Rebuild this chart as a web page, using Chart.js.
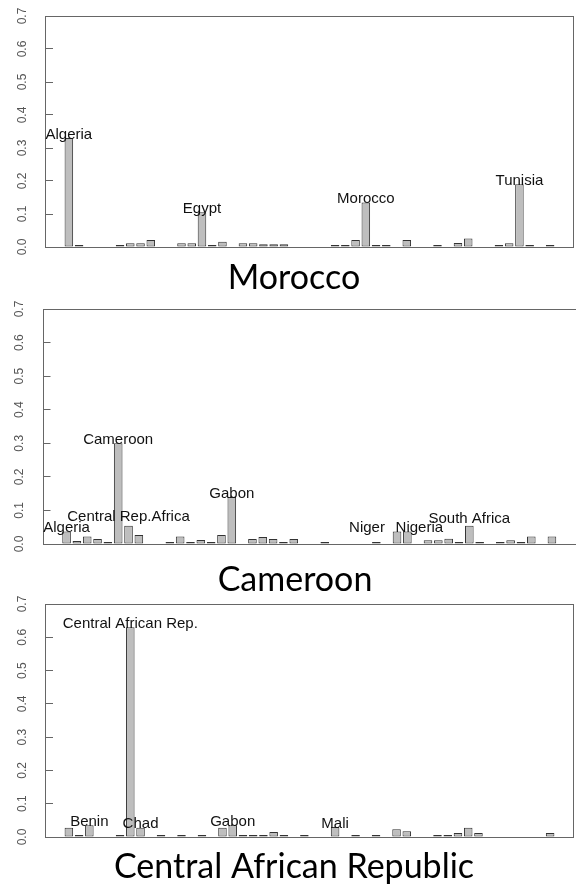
<!DOCTYPE html>
<html>
<head>
<meta charset="utf-8">
<title>Trade partner shares</title>
<script src="https://cdn.jsdelivr.net/npm/chart.js@4.4.1/dist/chart.umd.min.js"></script>
<style>
  html, body { margin: 0; padding: 0; background: #ffffff; }
  body { width: 576px; height: 885px; position: relative; overflow: hidden; }
  canvas { position: absolute; left: 0; }
</style>
</head>
<body>
<canvas id="panelMorocco"></canvas>
<canvas id="panelCameroon"></canvas>
<canvas id="panelCAR"></canvas>
<script>
// Partner countries, in the order the bars are drawn
const countries = [
  'Algeria', 'Angola', 'Benin', 'Botswana', 'Burkina Faso', 'Cameroon',
  'Central African Rep.', 'Chad', 'Comoros', 'Congo', "Cote d'Ivoire",
  'Dem. Rep. Congo', 'Djibouti', 'Egypt', 'Equatorial Guinea', 'Ethiopia',
  'Gabon', 'Gambia', 'Ghana', 'Guinea', 'Guinea-Bissau', 'Kenya', 'Liberia',
  'Libya', 'Madagascar', 'Malawi', 'Mali', 'Mauritania', 'Mauritius',
  'Morocco', 'Mozambique', 'Namibia', 'Niger', 'Nigeria', 'Rwanda',
  'Sao Tome', 'Senegal', 'Sierra Leone', 'Somalia', 'South Africa', 'Sudan',
  'Swaziland', 'Tanzania', 'Togo', 'Tunisia', 'Uganda', 'Zambia', 'Zimbabwe'
];

// Share of each partner, one series per reporting country
const moroccoShares = [
  0.330, 0.006, 0, 0, 0, 0.006, 0.011, 0.011, 0.021, 0, 0, 0.011,
  0.011, 0.105, 0.006, 0.016, 0, 0.011, 0.011, 0.008, 0.008, 0.008, 0, 0,
  0, 0, 0.006, 0.006, 0.021, 0.135, 0.006, 0.006, 0, 0.021, 0, 0,
  0.006, 0, 0.012, 0.026, 0, 0, 0.006, 0.011, 0.190, 0.006, 0, 0.006
];
const cameroonShares = [
  0.037, 0.009, 0.022, 0.015, 0.006, 0.300, 0.054, 0.027, 0, 0, 0.006, 0.022,
  0.006, 0.012, 0.006, 0.027, 0.140, 0, 0.015, 0.021, 0.015, 0.006, 0.015, 0,
  0, 0.006, 0, 0, 0, 0, 0.006, 0, 0.037, 0.037, 0, 0.011,
  0.011, 0.016, 0.006, 0.054, 0.006, 0, 0.006, 0.011, 0.006, 0.022, 0, 0.022
];
const carShares = [
  0.028, 0.006, 0.035, 0, 0, 0.006, 0.630, 0.028, 0, 0.006, 0, 0.006,
  0, 0.006, 0, 0.028, 0.035, 0.006, 0.006, 0.006, 0.015, 0.006, 0, 0.006,
  0, 0, 0.030, 0, 0.006, 0, 0.006, 0, 0.023, 0.017, 0, 0,
  0.006, 0.006, 0.012, 0.028, 0.012, 0, 0, 0, 0, 0, 0, 0.012
];

// Value axis ticks
const yTickValues = [0, 0.1, 0.2, 0.3, 0.4, 0.5, 0.6, 0.7];

// Named bars in each panel: partner index and the text written over it
const moroccoNamed = [
  { index: 0, text: 'Algeria' }, { index: 13, text: 'Egypt' },
  { index: 29, text: 'Morocco' }, { index: 44, text: 'Tunisia' }
];
const cameroonNamed = [
  { index: 0, text: 'Algeria' }, { index: 5, text: 'Cameroon' },
  { index: 6, text: 'Central Rep.Africa' }, { index: 16, text: 'Gabon' },
  { index: 32, text: 'Niger' }, { index: 33, text: 'Nigeria' },
  { index: 39, text: 'South Africa' }
];
const carNamed = [
  { index: 2, text: 'Benin' }, { index: 6, text: 'Central African Rep.' },
  { index: 7, text: 'Chad' }, { index: 16, text: 'Gabon' }, { index: 26, text: 'Mali' }
];

// Nudges for names that would otherwise collide (dx in px, dy in share units)
const nameNudges = {
  'Central Rep.Africa': { dx: 0, dy: 0.027 },
  'Niger': { dx: -30, dy: 0.01 },
  'Nigeria': { dx: 12, dy: 0.01 },
  'South Africa': { dx: 0, dy: 0.02 }
};

// barplot-style layout: unit-wide bars separated by 0.2
const BAR_W = 1, BAR_GAP = 0.2;
const barCentre = i => BAR_GAP + BAR_W / 2 + i * (BAR_W + BAR_GAP);
const spanLo = BAR_GAP, spanHi = countries.length * (BAR_W + BAR_GAP);
const pad = (spanHi - spanLo) * 0.04;

const boxPlugin = {
  id: 'frameBox',
  afterDatasetsDraw(chart) {
    const { ctx, chartArea: a } = chart;
    ctx.save();
    ctx.strokeStyle = '#666666';
    ctx.lineWidth = 1;
    ctx.strokeRect(Math.round(a.left) + 0.5, Math.round(a.top) + 0.5,
                   Math.round(a.right - a.left) - 1, Math.round(a.bottom - a.top));
    ctx.restore();
  }
};

const namesPlugin = {
  id: 'barNames',
  afterDraw(chart, args, opts) {
    const { ctx } = chart;
    const xs = chart.scales.x, ys = chart.scales.y;
    const vals = chart.data.datasets[0].data;
    ctx.save();
    ctx.font = '15px "Liberation Sans", Arial, sans-serif';
    ctx.fillStyle = '#111111';
    ctx.textAlign = 'center';
    ctx.textBaseline = 'middle';
    (opts.names || []).forEach(n => {
      const nudge = nameNudges[n.text] || { dx: 0, dy: 0.01 };
      const x = xs.getPixelForValue(vals[n.index].x) + nudge.dx;
      const y = ys.getPixelForValue(vals[n.index].y + nudge.dy);
      ctx.fillText(n.text, x, y);
    });
    ctx.restore();
  }
};

// left inset of the title block, which puts the titles a little right of centre
const TITLE_INSET = 14;

function makePanel(id, values, names, title, g) {
  const canvas = document.getElementById(id);
  canvas.width = 576; canvas.height = g.height;
  canvas.style.top = g.top + 'px';
  canvas.style.width = '576px'; canvas.style.height = g.height + 'px';
  const titleLine = 34;
  return new Chart(canvas, {
    type: 'bar',
    data: {
      datasets: [{
        data: values.map((v, i) => ({ x: barCentre(i), y: v, name: countries[i] })),
        backgroundColor: '#bebebe',
        borderColor: '#333333',
        borderWidth: 1,
        borderSkipped: false,
        categoryPercentage: 1,
        barPercentage: BAR_W / (BAR_W + BAR_GAP)
      }]
    },
    options: {
      responsive: false,
      animation: false,
      devicePixelRatio: 1,
      layout: {
        padding: {
          left: TITLE_INSET,
          top: g.box.t - g.top,
          right: 576 - g.box.r,
          bottom: g.top + g.height - (g.titleMid + titleLine / 2)
        }
      },
      plugins: {
        legend: { display: false },
        tooltip: { enabled: false },
        title: {
          display: true,
          text: title,
          position: 'bottom',
          color: '#000000',
          font: { family: 'Lato', size: 34, weight: 'normal', lineHeight: 1 },
          padding: { top: g.titleMid - titleLine / 2 - g.box.b, bottom: 0 }
        },
        barNames: { names: names }
      },
      scales: {
        x: {
          type: 'linear',
          display: false,
          offset: false,
          bounds: 'data',
          min: spanLo - pad,
          max: spanHi + pad,
          afterBuildTicks: s => { s.ticks = values.map((v, i) => ({ value: barCentre(i) })); }
        },
        y: {
          type: 'linear',
          min: 0,
          max: 0.7,
          afterBuildTicks: s => { s.ticks = yTickValues.map(v => ({ value: v })); },
          afterFit: s => {
            s.width = g.box.l - TITLE_INSET;
            s.paddingTop = 0; s.paddingBottom = 0;
            s.paddingLeft = 0; s.paddingRight = 0;
          },
          border: { display: false },
          grid: {
            drawOnChartArea: false,
            drawTicks: true,
            tickLength: -8,
            color: '#666666',
            lineWidth: 1
          },
          ticks: {
            minRotation: 90,
            maxRotation: 90,
            crossAlign: 'center',
            padding: 22,
            color: '#555555',
            font: { family: '"Liberation Sans", Arial, sans-serif', size: 12 },
            callback: v => Number(v).toFixed(1)
          }
        }
      }
    },
    plugins: [boxPlugin, namesPlugin]
  });
}

makePanel('panelMorocco', moroccoShares, moroccoNamed, 'Morocco',
  { top: 0, height: 298, box: { l: 45, r: 574, t: 16, b: 247 }, titleMid: 278.5 });
makePanel('panelCameroon', cameroonShares, cameroonNamed, 'Cameroon',
  { top: 298, height: 300, box: { l: 42.5, r: 576, t: 309, b: 544 }, titleMid: 580 });
makePanel('panelCAR', carShares, carNamed, 'Central African Republic',
  { top: 586, height: 299, box: { l: 45, r: 574, t: 604, b: 837 }, titleMid: 867 });
</script>
</body>
</html>
